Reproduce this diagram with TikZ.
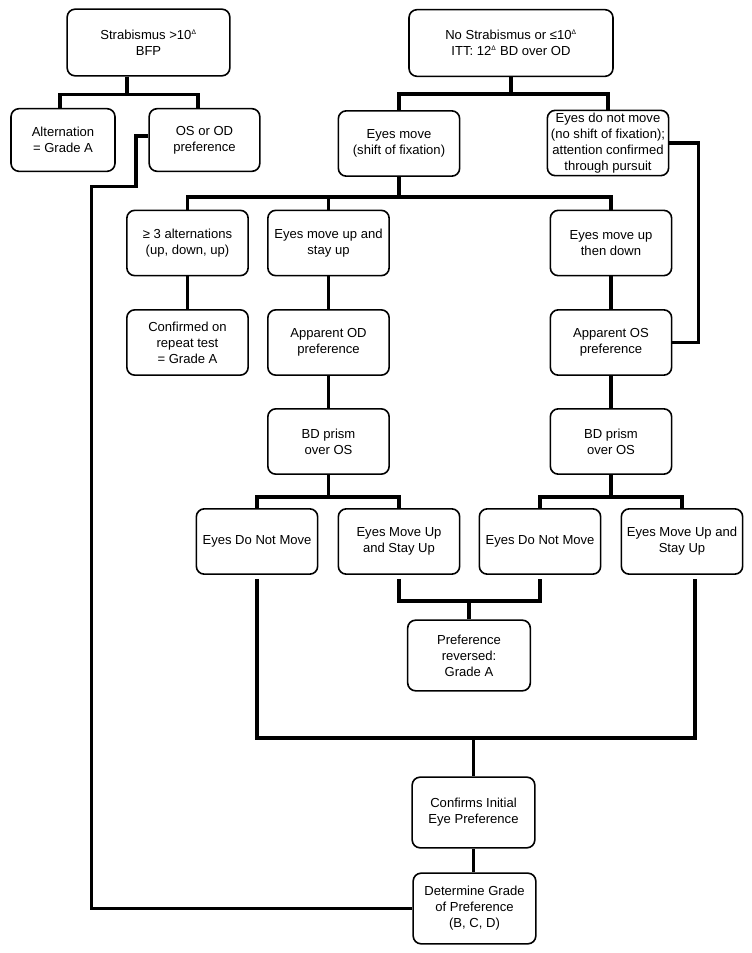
\documentclass[tikz,border=0pt]{standalone}
\usepackage{fontspec}
\setmainfont{Liberation Sans}
\usepackage{tikz}
\usetikzlibrary{calc}
\tikzset{
  box/.style  = {rectangle, draw, rounded corners=6pt, line width=1.2pt,
                 align=center, inner sep=0pt,
                 font=\fontsize{9.8}{12}\selectfont},   % all boxes alike
  wbox/.style = {box, minimum width=91pt, minimum height=49pt},
  tbox/.style = {box, minimum width=92pt, minimum height=53pt},
  link/.style = {line width=2.6pt}                  % heavy connectors
}
\newcommand{\dg}{\textsuperscript{\tiny Δ}}

\begin{document}
\begin{tikzpicture}[x=0.75pt, y=-0.75pt]
  \useasboundingbox (0,0) rectangle (751,953);
  % top rows
  \node[box, minimum width=122pt, minimum height=50pt] (strab) at (148.5,42.5) {Strabismus >10\dg\\BFP};
  \node[box, minimum width=153pt, minimum height=50pt] (nostrab) at (511,43) {No Strabismus or ≤10\dg\\ITT: 12\dg{} BD over OD};
  \node[box, minimum width=78pt, minimum height=47pt] (altern) at (63,140) {Alternation\\= Grade A};
  \node[box, minimum width=83pt, minimum height=47pt] (ospref) at (204.5,140) {OS or OD\\preference};
  \node[wbox] (move) at (399,143.5) {Eyes move\\(shift of fixation)};
  \node[wbox] (nomove) at (608,143) {Eyes do not move\\(no shift of fixation);\\attention confirmed\\through pursuit};
  % middle rows
  \node[wbox] (three) at (187.5,243) {≥ 3 alternations\\(up, down, up)};
  \node[wbox] (upstay) at (328.5,243) {Eyes move up and\\stay up};
  \node[wbox] (updown) at (611,243) {Eyes move up\\then down};
  \node[wbox] (repeat) at (187.5,342.5) {Confirmed on\\repeat test\\= Grade A};
  \node[wbox] (appOD) at (328.5,342.5) {Apparent OD\\preference};
  \node[wbox] (appOS) at (611,342.5) {Apparent OS\\preference};
  \node[wbox] (prismL) at (328.5,441.5) {BD prism\\over OS};
  \node[wbox] (prismR) at (611,441.5) {BD prism\\over OS};
  \node[wbox] (stillL) at (257,541.5) {Eyes Do Not Move};
  \node[wbox] (stayL) at (399,541.5) {Eyes Move Up\\and Stay Up};
  \node[wbox] (stillR) at (540,541.5) {Eyes Do Not Move};
  \node[wbox] (stayR) at (682,541.5) {Eyes Move Up and\\Stay Up};
  % bottom
  \node[tbox] (revers) at (469,655.5) {Preference\\reversed:\\Grade A};
  \node[tbox] (initial) at (473.5,812.5) {Confirms Initial\\Eye Preference};
  \node[tbox] (grade) at (474.5,908.5) {Determine Grade\\of Preference\\(B, C, D)};

  % connectors
  \draw[link] ($(strab.south)+(-21.5,0)$) -- ++(0,18) -| ($(altern.north)+(-3,0)$);
  \draw[link] ($(strab.south)+(-21.5,0)$) -- ++(0,18) -| ($(ospref.north)+(-6.5,0)$);
  \draw[link] ($(ospref.west)+(0,-4)$) -- ++(-12.5,0) -- ++(0,50.5) -- ++(-44.5,0) |- (grade.west);
  \draw[link] (nostrab.south) -- ++(0,17) -| (move.north);
  \draw[link] (nostrab.south) -- ++(0,17) -| (nomove.north);
  \draw[link] (nomove.east) -- ++(29,0) |- (appOS.east);
  \draw[link] (move.south) -- ++(0,20) -| (three.north);
  \draw[link] (move.south) -- ++(0,20) -| (upstay.north);
  \draw[link] (move.south) -- ++(0,20) -| (updown.north);
  \draw[link] (three) -- (repeat);
  \draw[link] (upstay) -- (appOD);
  \draw[link] (appOD) -- (prismL);
  \draw[link] (updown) -- (appOS);
  \draw[link] (appOS) -- (prismR);
  \draw[link] (prismL.south) -- ++(0,22) -| (stillL.north);
  \draw[link] (prismL.south) -- ++(0,22) -| (stayL.north);
  \draw[link] (prismR.south) -- ++(0,22) -| (stillR.north);
  \draw[link] (prismR.south) -- ++(0,22) -| (stayR.north);
  \draw[link] ($(stayL.south)+(0,4)$) -- ++(0,22) -| ($(stillR.south)+(0,4)$);
  \draw[link] (revers.north) -- ++(0,-20);
  \draw[link] ($(stillL.south)+(0,4)$) -- ++(0,159) -| ($(stayR.south)+(13,4)$);
  \draw[link] (initial.north) -- ++(0,-40);
  \draw[link] (initial.south) -- (initial.south |- grade.north);
\end{tikzpicture}
\end{document}
